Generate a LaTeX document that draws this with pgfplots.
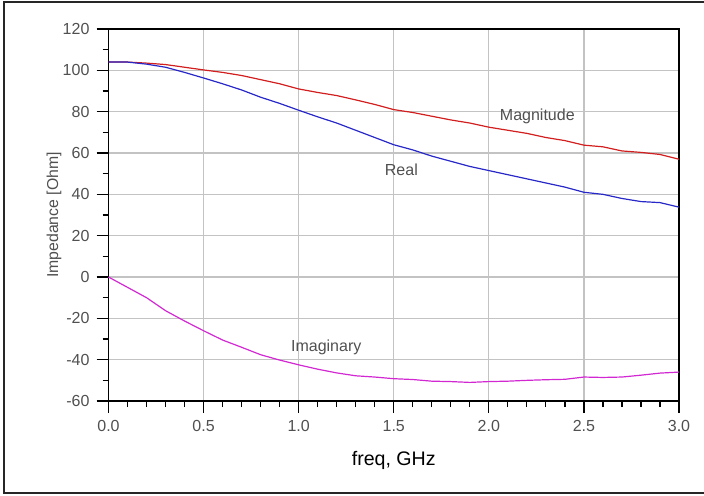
\documentclass[border=0pt]{standalone}
\usepackage{pgfplots}
\pgfplotsset{compat=1.18}
\usepackage{fontspec}
\setmainfont{Liberation Sans}

\definecolor{magred}{RGB}{210,30,30}
\definecolor{realblue}{RGB}{40,40,200}
\definecolor{imagpink}{RGB}{210,40,210}
\definecolor{gridgray}{RGB}{195,195,195}
\definecolor{labgray}{RGB}{80,80,80}

\begin{document}
\begin{tikzpicture}
\useasboundingbox (0,0) rectangle (352pt,247.5pt);
% outer frame (right side cut off in the original)
\draw[line width=1pt, black!85] (352pt,246.6pt) -- (2pt,246.6pt) -- (2pt,0.8pt) -- (352pt,0.8pt);
\begin{axis}[
    at={(54.25pt,47pt)}, anchor=south west,
    scale only axis,
    width=285.25pt, height=186pt,
    xmin=0, xmax=3, ymin=-60, ymax=120,
    xtick={0,0.5,...,3}, ytick={-60,-40,...,120},
    minor x tick num=4, minor y tick num=1,
    xtick pos=bottom, ytick pos=left,
    tick align=outside,
    major tick length=6pt, minor tick length=3pt,
    every tick/.style={black, line width=0.6pt},
    grid=major,
    major grid style={gridgray, line width=0.6pt},
    axis line style={black, line width=0.8pt},
    /pgf/number format/assume math mode=true,
    xticklabel style={/pgf/number format/fixed, /pgf/number format/precision=1, /pgf/number format/fixed zerofill},
    tick label style={font=\fontsize{8}{9}\selectfont, text=labgray},
    xlabel={freq, GHz},
    xlabel style={at={(axis description cs:0.5,0)}, anchor=center, yshift=-29.5pt, font=\fontsize{9.8}{11}\selectfont, text=black},
    ylabel={Impedance [Ohm]},
    ylabel style={at={(axis description cs:0,0.5)}, anchor=center, yshift=27.2pt, font=\fontsize{7.9}{9}\selectfont, text=labgray},
    every axis plot/.append style={line width=0.6pt},
    clip=false,
]
% Magnitude
\addplot[magred] coordinates {
(0.0,104.0) (0.1,104.0) (0.2,103.5) (0.3,102.8) (0.4,101.5) (0.5,100.2)
(0.6,99.0) (0.7,97.5) (0.8,95.5) (0.9,93.5) (1.0,91.0) (1.1,89.3)
(1.2,87.8) (1.3,85.7) (1.4,83.5) (1.5,81.0) (1.6,79.6) (1.7,77.8)
(1.8,76.0) (1.9,74.5) (2.0,72.5) (2.1,71.0) (2.2,69.5) (2.3,67.5)
(2.4,66.0) (2.5,63.8) (2.6,63.0) (2.7,61.0) (2.8,60.3) (2.9,59.3) (3.0,57.0)};
% Real
\addplot[realblue] coordinates {
(0.0,104.0) (0.1,104.0) (0.2,103.0) (0.3,101.5) (0.4,99.0) (0.5,96.3)
(0.6,93.5) (0.7,90.5) (0.8,87.0) (0.9,84.0) (1.0,80.7) (1.1,77.5)
(1.2,74.5) (1.3,71.0) (1.4,67.5) (1.5,64.0) (1.6,61.5) (1.7,58.5)
(1.8,56.0) (1.9,53.5) (2.0,51.5) (2.1,49.5) (2.2,47.5) (2.3,45.5)
(2.4,43.5) (2.5,41.0) (2.6,40.0) (2.7,38.0) (2.8,36.5) (2.9,36.0) (3.0,33.8)};
% Imaginary
\addplot[imagpink] coordinates {
(0.0,0.0) (0.1,-5.0) (0.2,-10.0) (0.3,-16.3) (0.4,-21.3) (0.5,-26.0)
(0.6,-30.5) (0.7,-34.0) (0.8,-37.6) (0.9,-40.2) (1.0,-42.5) (1.1,-44.6)
(1.2,-46.4) (1.3,-47.8) (1.4,-48.4) (1.5,-49.2) (1.6,-49.6) (1.7,-50.4)
(1.8,-50.6) (1.9,-51.0) (2.0,-50.6) (2.1,-50.4) (2.2,-50.0) (2.3,-49.7)
(2.4,-49.5) (2.5,-48.4) (2.6,-48.6) (2.7,-48.4) (2.8,-47.5) (2.9,-46.5) (3.0,-46.0)};
\node[font=\fontsize{8}{9}\selectfont, text=labgray] at (axis cs:2.255,77.9) {Magnitude};
\node[font=\fontsize{8}{9}\selectfont, text=labgray] at (axis cs:1.54,51.8) {Real};
\node[font=\fontsize{8}{9}\selectfont, text=labgray] at (axis cs:1.145,-33.8) {Imaginary};
\end{axis}
\end{tikzpicture}
\end{document}
